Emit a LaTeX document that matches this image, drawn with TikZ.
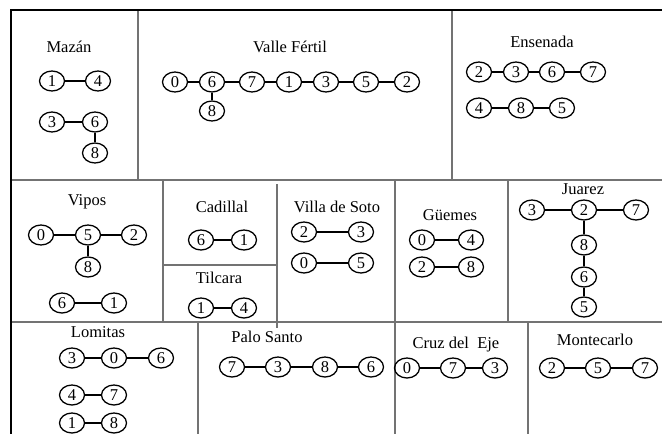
\documentclass[tikz,border=0pt]{standalone}
\usepackage{fontspec}
\setmainfont{Liberation Serif}
\usetikzlibrary{shapes.geometric}
\begin{document}
\begin{tikzpicture}[x=1pt,y=-1pt,
  vtx/.style={ellipse,draw=black,line width=1.3pt,minimum width=25pt,minimum height=20pt,inner sep=0pt,font=\fontsize{16.5}{16.5}\selectfont},
  lbl/.style={font=\fontsize{16.5}{17}\selectfont,inner sep=0pt},
  ln/.style={draw=black,line width=1.2pt},
  sep/.style={draw=black!55,line width=1.1pt},
  frame/.style={draw=black,line width=2pt}]
\useasboundingbox (0,0) rectangle (662,434);

% panel separators
\draw[sep] (11,180) -- (662,180);
\draw[sep] (11,322) -- (662,322);
\draw[sep] (138,10) -- (138,180);
\draw[sep] (452,10) -- (452,180);
\draw[sep] (163,180) -- (163,322);
\draw[sep] (277,184) -- (277,328);
\draw[sep] (163,265) -- (277,265);
\draw[sep] (395,180) -- (395,434);
\draw[sep] (508,180) -- (508,322);
\draw[sep] (198,322) -- (198,434);
\draw[sep] (528,322) -- (528,434);
% outer frame
\draw[frame] (11,434) -- (11,10) -- (662,10);

% Mazan
\node[lbl] (tMaz) at (69,47) {Mazán};
\node[vtx] (maz1) at (52,81) {1};
\node[vtx] (maz4) at (98,81) {4};
\node[vtx] (maz3) at (52,122) {3};
\node[vtx] (maz6) at (95,122) {6};
\node[vtx] (maz8) at (95,153) {8};
\draw[ln] (maz1) -- (maz4);
\draw[ln] (maz3) -- (maz6);
\draw[ln] (maz6) -- (maz8);

% Valle Fertil
\node[lbl] (tVal) at (290,47) {Valle Fértil};
\node[vtx] (val0) at (175,82) {0};
\node[vtx] (val6) at (212,82) {6};
\node[vtx] (val7) at (252,82) {7};
\node[vtx] (val1) at (289,82) {1};
\node[vtx] (val3) at (326,82) {3};
\node[vtx] (val5) at (366,82) {5};
\node[vtx] (val2) at (407,82) {2};
\node[vtx] (val8) at (212,111) {8};
\draw[ln] (val0) -- (val6) -- (val7) -- (val1) -- (val3) -- (val5) -- (val2);
\draw[ln] (val6) -- (val8);

% Ensenada
\node[lbl] (tEns) at (542,42) {Ensenada};
\node[vtx] (ens2) at (479,72) {2};
\node[vtx] (ens3) at (516,72) {3};
\node[vtx] (ens6) at (552,72) {6};
\node[vtx] (ens7) at (593,72) {7};
\node[vtx] (ens4) at (479,108) {4};
\node[vtx] (ens8) at (521,108) {8};
\node[vtx] (ens5) at (562,108) {5};
\draw[ln] (ens2) -- (ens3) -- (ens6) -- (ens7);
\draw[ln] (ens4) -- (ens8) -- (ens5);

% Vipos
\node[lbl] (tVip) at (87,202) {Vipos};
\node[vtx] (vip0) at (41,235) {0};
\node[vtx] (vip5) at (88,235) {5};
\node[vtx] (vip2) at (134,235) {2};
\node[vtx] (vip8) at (88,267) {8};
\node[vtx] (vip6) at (62,303) {6};
\node[vtx] (vip1) at (114,303) {1};
\draw[ln] (vip0) -- (vip5) -- (vip2);
\draw[ln] (vip5) -- (vip8);
\draw[ln] (vip6) -- (vip1);

% Cadillal
\node[lbl] (tCad) at (222,207) {Cadillal};
\node[vtx] (cad6) at (201,240) {6};
\node[vtx] (cad1) at (244,240) {1};
\draw[ln] (cad6) -- (cad1);

% Tilcara
\node[lbl] (tTil) at (219,278) {Tilcara};
\node[vtx] (til1) at (201,308) {1};
\node[vtx] (til4) at (244,308) {4};
\draw[ln] (til1) -- (til4);

% Villa de Soto
\node[lbl] (tVil) at (337,207) {Villa de Soto};
\node[vtx] (vil2) at (304,232) {2};
\node[vtx] (vil3) at (361,232) {3};
\node[vtx] (vil0) at (304,263) {0};
\node[vtx] (vil5) at (361,263) {5};
\draw[ln] (vil2) -- (vil3);
\draw[ln] (vil0) -- (vil5);

% Guemes
\node[lbl] (tGue) at (450,215) {Güemes};
\node[vtx] (gue0) at (422,240) {0};
\node[vtx] (gue4) at (471,240) {4};
\node[vtx] (gue2) at (422,267) {2};
\node[vtx] (gue8) at (471,267) {8};
\draw[ln] (gue0) -- (gue4);
\draw[ln] (gue2) -- (gue8);

% Juarez
\node[lbl] (tJua) at (583,189) {Juarez};
\node[vtx] (jua3) at (532,210) {3};
\node[vtx] (jua2) at (584,210) {2};
\node[vtx] (jua7) at (636,210) {7};
\node[vtx] (jua8) at (584,245) {8};
\node[vtx] (jua6) at (584,277) {6};
\node[vtx] (jua5) at (584,307) {5};
\draw[ln] (jua3) -- (jua2) -- (jua7);
\draw[ln] (jua2) -- (jua8) -- (jua6) -- (jua5);

% Lomitas
\node[lbl] (tLom) at (98,332) {Lomitas};
\node[vtx] (lom3) at (72,358) {3};
\node[vtx] (lom0) at (114,358) {0};
\node[vtx] (lom6) at (161,358) {6};
\node[vtx] (lom4) at (72,395) {4};
\node[vtx] (lom7) at (114,395) {7};
\node[vtx] (lom1) at (72,423) {1};
\node[vtx] (lom8) at (114,423) {8};
\draw[ln] (lom3) -- (lom0) -- (lom6);
\draw[ln] (lom4) -- (lom7);
\draw[ln] (lom1) -- (lom8);

% Palo Santo
\node[lbl] (tPal) at (267,337) {Palo Santo};
\node[vtx] (pal7) at (232,367) {7};
\node[vtx] (pal3) at (278,367) {3};
\node[vtx] (pal8) at (325,367) {8};
\node[vtx] (pal6) at (371,367) {6};
\draw[ln] (pal7) -- (pal3) -- (pal8) -- (pal6);

% Cruz del Eje
\node[lbl] (tCru) at (456,345) {Cruz del\ \ Eje};
\node[vtx] (cru0) at (407,368) {0};
\node[vtx] (cru7) at (453,368) {7};
\node[vtx] (cru3) at (495,368) {3};
\draw[ln] (cru0) -- (cru7) -- (cru3);

% Montecarlo
\node[lbl] (tMon) at (595,340) {Montecarlo};
\node[vtx] (mon2) at (552,368) {2};
\node[vtx] (mon5) at (598,368) {5};
\node[vtx] (mon7) at (645,368) {7};
\draw[ln] (mon2) -- (mon5) -- (mon7);
\end{tikzpicture}
\end{document}
